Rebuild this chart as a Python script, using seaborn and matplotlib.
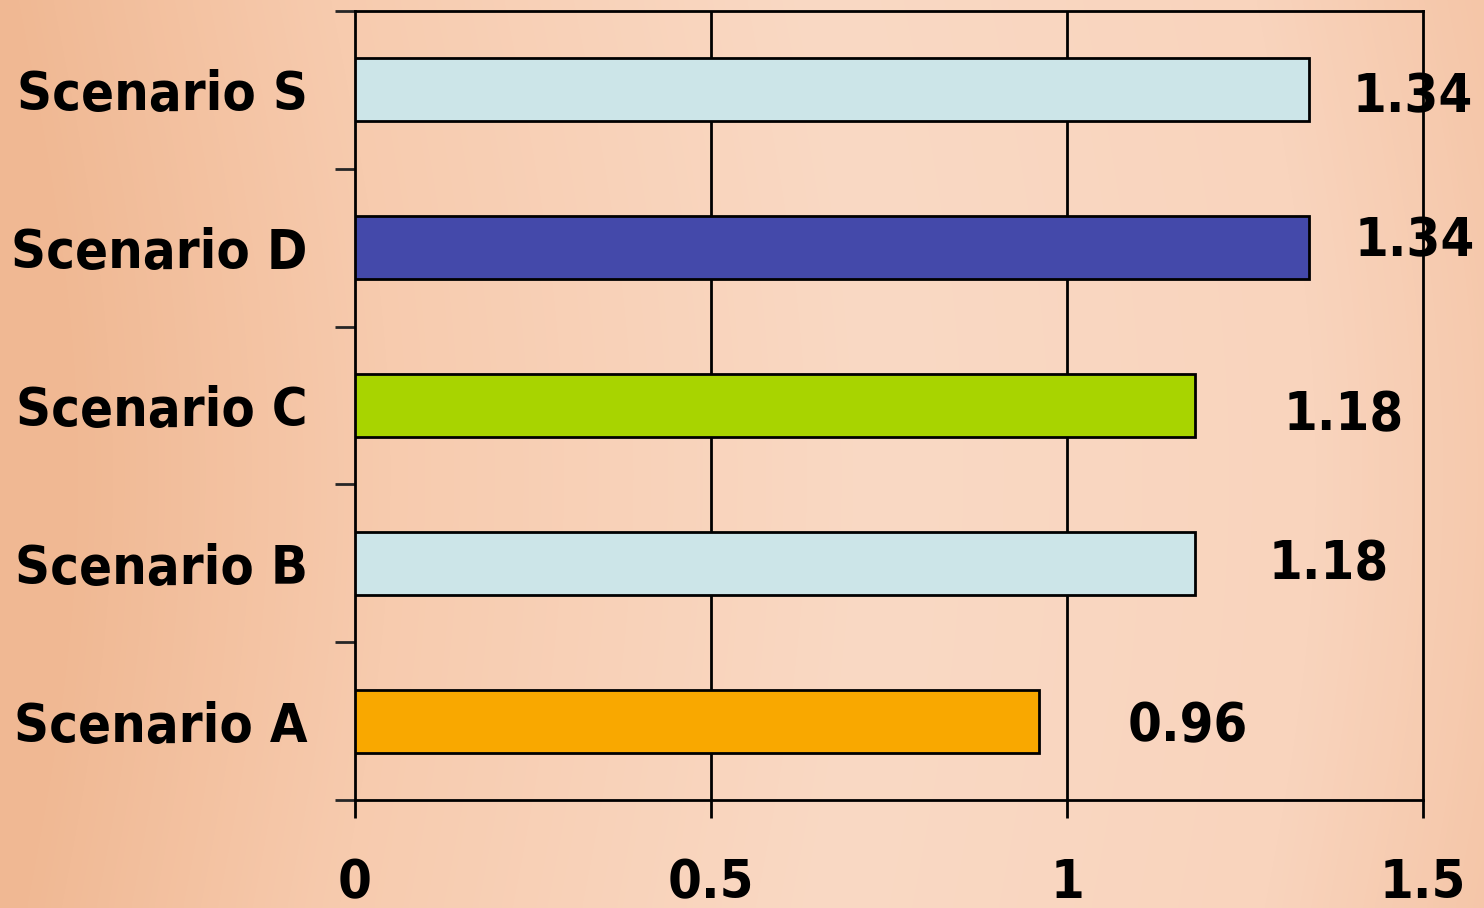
import numpy as np
import matplotlib
matplotlib.use("Agg")
import matplotlib.pyplot as plt
from matplotlib.colors import LinearSegmentedColormap
import seaborn as sns

# Chart data
scenarios = ["Scenario S", "Scenario D", "Scenario C", "Scenario B", "Scenario A"]
values = [1.34, 1.34, 1.18, 1.18, 0.96]
bar_colors = ["#CCE5E8", "#4449AA", "#A8D400", "#CCE5E8", "#F9A800"]
x_ticks = [0, 0.5, 1, 1.5]
x_tick_labels = ["0", "0.5", "1", "1.5"]

sns.set_style("ticks")
plt.rcParams["font.family"] = ["DejaVu Sans"]
plt.rcParams["font.weight"] = "bold"
plt.rcParams["font.stretch"] = "condensed"

FS = 39
LW = 2.0

W, H, DPI = 1484, 908, 100
fig = plt.figure(figsize=(W / DPI, H / DPI), dpi=DPI)

# Warm parchment backdrop
bg = fig.add_axes([0, 0, 1, 1], zorder=-10)
bg.set_axis_off()
paper = LinearSegmentedColormap.from_list(
    "paper",
    [(0.0, "#F0B893"), (0.22, "#F7CBAE"), (0.55, "#FAD9C4"), (0.85, "#F9D4BD"), (1.0, "#F5C6A8")],
)
gx = np.linspace(0, 1, 400)
gy = np.linspace(0, 1, 200)
grad = np.clip(gx[None, :] - 0.04 * np.sin(gy[:, None] * 3.0), 0, 1)
bg.imshow(grad, cmap=paper, aspect="auto", extent=[0, 1, 0, 1], interpolation="bicubic")
bg.set_xlim(0, 1)
bg.set_ylim(0, 1)

ax = fig.add_axes([355 / W, 1 - 800 / H, (1423 - 355) / W, (800 - 11) / H])
ax.set_facecolor("none")

sns.barplot(
    x=values, y=scenarios, hue=scenarios, palette=bar_colors, legend=False,
    orient="h", width=0.4, saturation=1, edgecolor="black", linewidth=LW,
    ax=ax, zorder=3,
)

ax.set_xlim(0, 1.5)
ax.set_ylim(len(scenarios) - 0.5, -0.5)
ax.set_xticks(x_ticks)
ax.set_xticklabels(x_tick_labels)
ax.set_xlabel("")
ax.set_ylabel("")

# Vertical gridlines behind bars
for gxv in x_ticks[1:-1]:
    ax.axvline(gxv, color="black", lw=LW, zorder=1)

for sp in ax.spines.values():
    sp.set_visible(True)
    sp.set_color("black")
    sp.set_linewidth(LW)

ax.tick_params(axis="x", direction="out", length=13, width=LW, pad=28,
               labelsize=FS, colors="black")
ax.tick_params(axis="y", which="major", length=0, pad=34, labelsize=FS, colors="black")
ax.set_yticks(np.arange(-0.5, len(scenarios), 1.0), minor=True)
ax.tick_params(axis="y", which="minor", direction="out", length=14.4, width=LW)
for lab in ax.get_xticklabels() + ax.get_yticklabels():
    lab.set_fontweight("bold")
    lab.set_fontstretch("condensed")

# Value labels beside each bar (pixel offsets: right, up)
label_offsets = [(43, -2), (45, 12), (88, -4), (73, 4), (89, 0)]
for i, (v, (dx, dy)) in enumerate(zip(values, label_offsets)):
    ax.annotate(f"{v:.2f}", xy=(v, i), xytext=(dx, dy), textcoords="offset pixels",
                ha="left", va="center_baseline", fontsize=FS, fontweight="bold",
                fontstretch="condensed", color="black", zorder=5,
                annotation_clip=False)

fig.savefig("out.png", dpi=DPI)
